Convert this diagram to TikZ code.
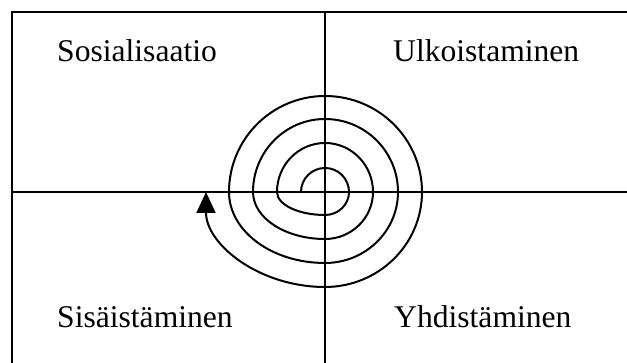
\documentclass[tikz,border=0pt]{standalone}
\usepackage{fontspec}
\setmainfont{Liberation Serif}
\usetikzlibrary{arrows.meta}
\begin{document}
\begin{tikzpicture}[x=1pt,y=1pt,
  frame/.style={line width=2.2pt,black},
  spiral/.style={line width=2pt,black},
  label/.style={anchor=base west,inner sep=0pt,font=\fontsize{31.6}{36}\selectfont}]
\useasboundingbox (0,0) rectangle (627,363);
% frame
\draw[frame] (12,0) -- (12,351) -- (627,351);
\draw[frame] (12,171) -- (627,171);
\draw[frame] (325,0) -- (325,351);
% labels
\node[label] (soc) at (57,301) {Sosialisaatio};
\node[label] (ext) at (393,301) {Ulkoistaminen};
\node[label] (int) at (57,35) {Sisäistäminen};
\node[label] (com) at (394,35) {Yhdistäminen};
% spiral
\coordinate (c) at (325,171);
\draw[spiral,-{Triangle[length=21pt,width=19pt]}] ([shift={(-24,0)}]c)
  arc[start angle=180,end angle=90,x radius=24,y radius=24]
  arc[start angle=90,end angle=0,x radius=24,y radius=24]
  arc[start angle=0,end angle=-90,x radius=24,y radius=23]
  arc[start angle=-90,end angle=-180,x radius=48,y radius=23]
  arc[start angle=180,end angle=90,x radius=48,y radius=49]
  arc[start angle=90,end angle=0,x radius=48,y radius=49]
  arc[start angle=0,end angle=-90,x radius=48,y radius=47]
  arc[start angle=-90,end angle=-180,x radius=72,y radius=47]
  arc[start angle=180,end angle=90,x radius=72,y radius=73]
  arc[start angle=90,end angle=0,x radius=73,y radius=73]
  arc[start angle=0,end angle=-90,x radius=73,y radius=71]
  arc[start angle=-90,end angle=-180,x radius=96,y radius=71]
  arc[start angle=180,end angle=90,x radius=96,y radius=96]
  arc[start angle=90,end angle=0,x radius=97,y radius=96]
  arc[start angle=0,end angle=-90,x radius=97,y radius=95]
  arc[start angle=-90,end angle=-180,x radius=119,y radius=95];
\end{tikzpicture}
\end{document}
